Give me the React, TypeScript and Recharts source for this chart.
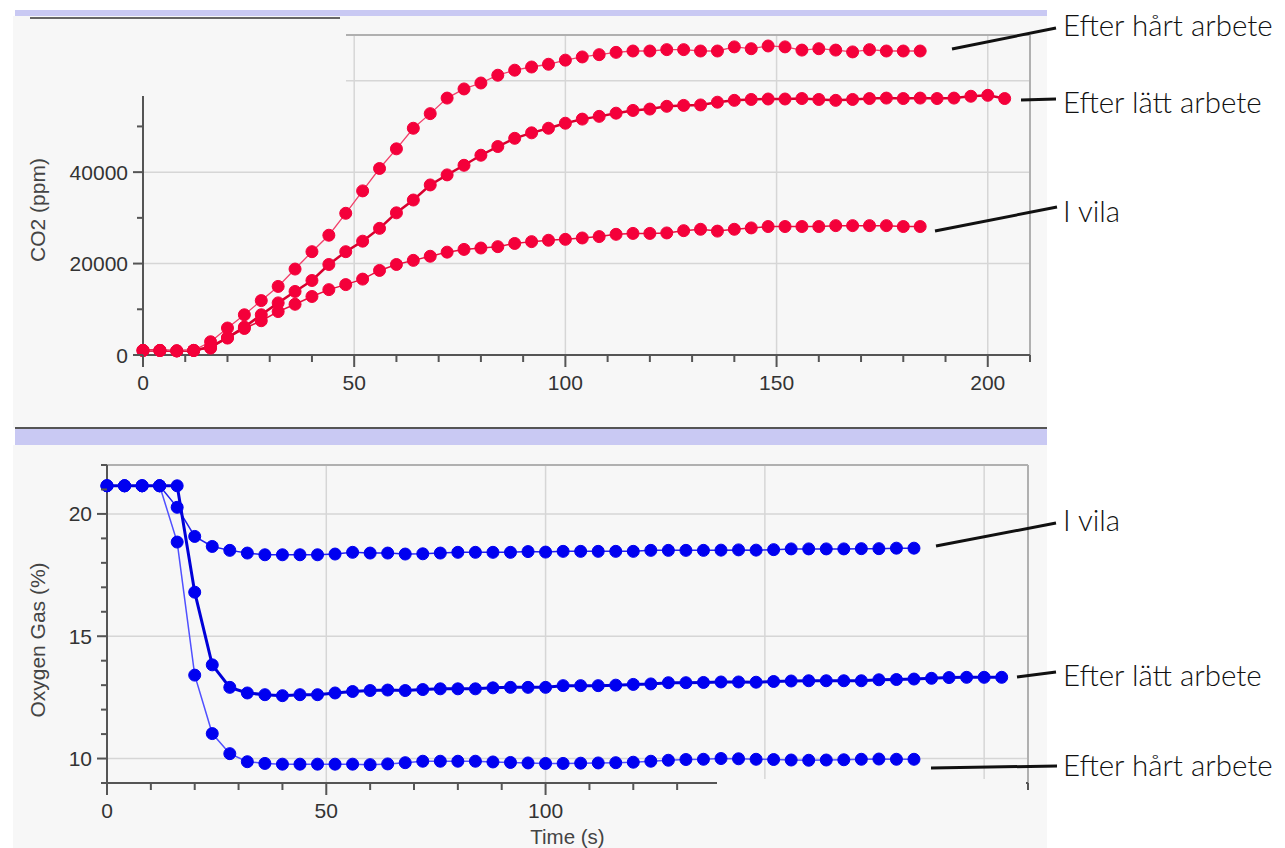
import React from 'react';
import { LineChart, Line, XAxis, YAxis, ReferenceLine } from 'recharts';

// ---------- data ----------
const timeShort = [0, 4, 8, 12, 16, 20, 24, 28, 32, 36, 40, 44, 48, 52, 56, 60, 64, 68, 72, 76, 80, 84, 88, 92, 96, 100, 104, 108, 112, 116, 120, 124, 128, 132, 136, 140, 144, 148, 152, 156, 160, 164, 168, 172, 176, 180, 184];
const timeLong = [0, 4, 8, 12, 16, 20, 24, 28, 32, 36, 40, 44, 48, 52, 56, 60, 64, 68, 72, 76, 80, 84, 88, 92, 96, 100, 104, 108, 112, 116, 120, 124, 128, 132, 136, 140, 144, 148, 152, 156, 160, 164, 168, 172, 176, 180, 184, 188, 192, 196, 200, 204];

// CO2 (ppm)
const co2Hard = [1000, 1000, 900, 1000, 2900, 5900, 8800, 11900, 15000, 18800, 22600, 26200, 31000, 35900, 40800, 45100, 49600, 52800, 56200, 58200, 59500, 61200, 62300, 63000, 63600, 64500, 65200, 65700, 66200, 66500, 66500, 66800, 66800, 66500, 66500, 67400, 67000, 67600, 67400, 66700, 67000, 66700, 66300, 66800, 66500, 66500, 66500];
const co2Light = [1000, 1000, 900, 1000, 1800, 3800, 6100, 8800, 11400, 13900, 16300, 19800, 22600, 24900, 27700, 31100, 33900, 37200, 39400, 41500, 43700, 45600, 47400, 48600, 49600, 50700, 51600, 52200, 52900, 53500, 53800, 54400, 54600, 54700, 55300, 55700, 55900, 56000, 56000, 56100, 55900, 55700, 55900, 56100, 56200, 56100, 56200, 56100, 56200, 56600, 56800, 56100];
const co2Rest = [1000, 1000, 900, 1000, 1500, 3700, 5800, 7500, 9500, 11100, 12800, 14300, 15400, 16600, 18500, 19800, 20700, 21600, 22500, 23100, 23400, 23700, 24400, 24800, 25100, 25300, 25600, 25900, 26400, 26600, 26600, 26700, 27200, 27500, 27100, 27500, 27800, 28100, 28100, 28100, 28100, 28300, 28300, 28300, 28300, 28100, 28100];

// Oxygen Gas (%)
const o2Rest = [21.15, 21.15, 21.15, 21.15, 20.27, 19.08, 18.67, 18.51, 18.4, 18.33, 18.33, 18.33, 18.33, 18.36, 18.43, 18.4, 18.4, 18.36, 18.37, 18.4, 18.43, 18.43, 18.43, 18.43, 18.46, 18.44, 18.47, 18.47, 18.47, 18.47, 18.47, 18.51, 18.51, 18.51, 18.51, 18.52, 18.53, 18.52, 18.54, 18.57, 18.57, 18.57, 18.57, 18.58, 18.58, 18.6, 18.6];
const o2Light = [21.15, 21.15, 21.15, 21.15, 21.15, 16.8, 13.83, 12.91, 12.68, 12.61, 12.57, 12.61, 12.61, 12.68, 12.74, 12.78, 12.8, 12.78, 12.82, 12.85, 12.85, 12.85, 12.89, 12.91, 12.91, 12.91, 12.98, 12.98, 12.98, 13.0, 13.03, 13.05, 13.1, 13.1, 13.11, 13.13, 13.13, 13.12, 13.15, 13.17, 13.18, 13.18, 13.18, 13.18, 13.22, 13.23, 13.25, 13.28, 13.31, 13.32, 13.32, 13.32];
const o2Hard = [21.15, 21.15, 21.15, 21.15, 18.85, 13.41, 11.02, 10.2, 9.87, 9.8, 9.77, 9.77, 9.77, 9.77, 9.77, 9.75, 9.78, 9.83, 9.89, 9.89, 9.89, 9.89, 9.86, 9.84, 9.82, 9.8, 9.8, 9.81, 9.82, 9.83, 9.85, 9.89, 9.93, 9.96, 9.97, 10.0, 9.99, 9.97, 9.96, 9.94, 9.93, 9.94, 9.95, 9.97, 9.98, 9.97, 9.97];

// axes
const xTicks = [0, 10, 20, 30, 40, 50, 60, 70, 80, 90, 100, 110, 120, 130, 140, 150, 160, 170, 180, 190, 200, 210];
const xMajor = [0, 50, 100, 150, 200];
const xLabelsTop = [0, 50, 100, 150, 200];
const xLabelsBottom = [0, 50, 100];
const xGrid = [50, 100, 150, 200];

const co2Ticks = [0, 10000, 20000, 30000, 40000, 50000, 60000, 70000];
const co2Major = [0, 20000, 40000, 60000];
const co2Labels = [0, 20000, 40000];
const co2Grid = [20000, 40000, 60000];

const o2Ticks = [9, 10, 11, 12, 13, 14, 15, 16, 17, 18, 19, 20, 21, 22];
const o2Major = [10, 15, 20];
const o2Labels = [10, 15, 20];
const o2Grid = [10, 15, 20];

const seriesNames = { hard: 'Efter hårt arbete', light: 'Efter lätt arbete', rest: 'I vila' };

const rows = (ts: number[], vs: number[]) => ts.map((t, i) => ({ t, v: vs[i] }));

// ---------- styles ----------
const ARIAL = "'Liberation Sans', Arial, sans-serif";
const LATO = "Lato, 'Open Sans', sans-serif";
const AXIS = '#555';
const RED = '#f4003a';
const BLUE = '#0000f0';
const GRID = '#d6d6d6';
const FRAME = '#b0b0b0';
const PANEL = '#f7f7f7';
const LAV = '#c9c9f3';

const XTick = (props: any) => {
  const { x, y, payload, labels, majors } = props;
  const v = payload.value;
  const major = majors.includes(v);
  return (
    <g>
      <line x1={x} x2={x} y1={y} y2={y + (major ? 12 : 7)} stroke={AXIS} strokeWidth={2} />
      {labels.includes(v) && (
        <text x={x} y={y + 35} textAnchor="middle" fontSize={21} fill="#333" fontFamily={ARIAL}>
          {v}
        </text>
      )}
    </g>
  );
};

const YTick = (props: any) => {
  const { x, y, payload, labels, majors } = props;
  const v = payload.value;
  const major = majors.includes(v);
  return (
    <g>
      <line x1={x - (major ? 10 : 6)} x2={x} y1={y} y2={y} stroke={AXIS} strokeWidth={2} />
      {labels.includes(v) && (
        <text x={x - 15} y={y + 7.5} textAnchor="end" fontSize={21} fill="#333" fontFamily={ARIAL}>
          {v}
        </text>
      )}
    </g>
  );
};

const YTitle = ({ viewBox, text, dx, dy }: any) => {
  const cx = viewBox.x + dx;
  const cy = viewBox.y + viewBox.height / 2 + dy;
  return (
    <text
      x={cx}
      y={cy}
      transform={`rotate(-90 ${cx} ${cy})`}
      textAnchor="middle"
      dominantBaseline="central"
      fontSize={21}
      fill="#444"
      fontFamily={ARIAL}
    >
      {text}
    </text>
  );
};

const XTitle = ({ viewBox, text }: any) => (
  <text
    x={viewBox.x + viewBox.width / 2}
    y={viewBox.y + 61}
    textAnchor="middle"
    fontSize={20.5}
    fill="#444"
    fontFamily={ARIAL}
  >
    {text}
  </text>
);

const dotStyle = (c: string) => ({ r: 6, fill: c, stroke: c, strokeWidth: 1 });

const box = (left: number, top: number, width: number, height: number, bg: string): React.CSSProperties => ({
  position: 'absolute',
  left,
  top,
  width,
  height,
  background: bg,
});

export default function App() {
  return (
    <div style={{ position: 'absolute', left: 0, top: 0, width: 1285, height: 848, background: '#fff', overflow: 'hidden' }}>
      {/* panels */}
      <div style={box(15, 10, 1032, 6, LAV)} />
      <div style={box(13, 16, 1034, 412, PANEL)} />
      <div style={box(15, 427, 1032, 2, '#555')} />
      <div style={box(15, 429, 1032, 16, LAV)} />
      <div style={box(13, 445, 1034, 403, PANEL)} />

      {/* CO2 chart */}
      <div style={{ position: 'absolute', left: 13, top: 16 }}>
        <LineChart width={1034} height={412} margin={{ top: 19, right: 17, bottom: 13, left: 0 }}>
          <XAxis
            type="number"
            dataKey="t"
            domain={[0, 210]}
            ticks={xTicks}
            interval={0}
            height={60}
            tickSize={0}
            tickMargin={0}
            tickLine={false}
            axisLine={{ stroke: AXIS, strokeWidth: 2 }}
            tick={(p: any) => <XTick {...p} labels={xLabelsTop} majors={xMajor} />}
          />
          <YAxis
            type="number"
            domain={[0, 70000]}
            ticks={co2Ticks}
            interval={0}
            width={130}
            tickSize={0}
            tickMargin={0}
            tickLine={false}
            axisLine={{ stroke: AXIS, strokeWidth: 2 }}
            tick={(p: any) => <YTick {...p} labels={co2Labels} majors={co2Major} />}
            label={{ content: (p: any) => <YTitle viewBox={p.viewBox} text="CO2 (ppm)" dx={24} dy={15} /> }}
          />
          {xGrid.map((g) => (
            <ReferenceLine key={'x' + g} x={g} stroke={GRID} strokeWidth={1.5} />
          ))}
          {co2Grid.map((g) => (
            <ReferenceLine key={'y' + g} y={g} stroke={GRID} strokeWidth={1.5} />
          ))}
          <ReferenceLine y={70000} stroke={FRAME} strokeWidth={2} />
          <ReferenceLine x={210} stroke={FRAME} strokeWidth={2} />
          <Line data={rows(timeShort, co2Rest)} dataKey="v" name={seriesNames.rest} type="linear" stroke="#e8103f" strokeWidth={1.5} dot={dotStyle(RED)} activeDot={false} isAnimationActive={false} />
          <Line data={rows(timeLong, co2Light)} dataKey="v" name={seriesNames.light} type="linear" stroke="#d8002e" strokeWidth={2.5} dot={dotStyle(RED)} activeDot={false} isAnimationActive={false} />
          <Line data={rows(timeShort, co2Hard)} dataKey="v" name={seriesNames.hard} type="linear" stroke="#f2406a" strokeWidth={1.3} dot={dotStyle(RED)} activeDot={false} isAnimationActive={false} />
        </LineChart>
      </div>

      {/* O2 chart */}
      <div style={{ position: 'absolute', left: 13, top: 446 }}>
        <LineChart width={1034} height={402} margin={{ top: 19, right: 19, bottom: 5, left: 0 }}>
          <XAxis
            type="number"
            dataKey="t"
            domain={[0, 210]}
            ticks={xTicks}
            interval={0}
            height={60}
            tickSize={0}
            tickMargin={0}
            tickLine={false}
            axisLine={{ stroke: AXIS, strokeWidth: 2 }}
            tick={(p: any) => <XTick {...p} labels={xLabelsBottom} majors={xMajor} />}
            label={{ content: (p: any) => <XTitle viewBox={p.viewBox} text="Time (s)" /> }}
          />
          <YAxis
            type="number"
            domain={[9, 22]}
            ticks={o2Ticks}
            interval={0}
            width={94}
            tickSize={0}
            tickMargin={0}
            tickLine={false}
            axisLine={{ stroke: AXIS, strokeWidth: 2 }}
            tick={(p: any) => <YTick {...p} labels={o2Labels} majors={o2Major} />}
            label={{ content: (p: any) => <YTitle viewBox={p.viewBox} text="Oxygen Gas (%)" dx={24} dy={16} /> }}
          />
          {xGrid.map((g) => (
            <ReferenceLine key={'x' + g} x={g} stroke={GRID} strokeWidth={1.5} />
          ))}
          {o2Grid.map((g) => (
            <ReferenceLine key={'y' + g} y={g} stroke={GRID} strokeWidth={1.5} />
          ))}
          <ReferenceLine y={22} stroke={FRAME} strokeWidth={2} />
          <ReferenceLine x={210} stroke={FRAME} strokeWidth={2} />
          <Line data={rows(timeShort, o2Rest)} dataKey="v" name={seriesNames.rest} type="linear" stroke="#2020f0" strokeWidth={1.5} dot={dotStyle(BLUE)} activeDot={false} isAnimationActive={false} />
          <Line data={rows(timeShort, o2Hard)} dataKey="v" name={seriesNames.hard} type="linear" stroke="#5050ff" strokeWidth={1.5} dot={dotStyle(BLUE)} activeDot={false} isAnimationActive={false} />
          <Line data={rows(timeLong, o2Light)} dataKey="v" name={seriesNames.light} type="linear" stroke="#0000d8" strokeWidth={3} dot={dotStyle(BLUE)} activeDot={false} isAnimationActive={false} />
        </LineChart>
      </div>

      {/* cut-out regions of the original composite screenshot */}
      <div style={box(15, 19, 331, 77, PANEL)} />
      <div style={box(30, 17, 310, 2, '#666')} />
      <div style={box(717, 779, 309, 69, PANEL)} />

      {/* annotations */}
      <svg width={1285} height={848} style={{ position: 'absolute', left: 0, top: 0, pointerEvents: 'none' }}>
        <g stroke="#111" strokeWidth={3}>
          <line x1={952} y1={49} x2={1056} y2={28} />
          <line x1={1021} y1={100} x2={1056} y2={99} />
          <line x1={935} y1={231} x2={1057} y2={207} />
          <line x1={936} y1={546} x2={1056} y2={523} />
          <line x1={1017} y1={677} x2={1056} y2={672} />
          <line x1={931} y1={768} x2={1057} y2={766} />
        </g>
        <g fontFamily={LATO} fontSize={29.5} fill="#111" fontWeight={300}>
          <text x={1063} y={36}>{seriesNames.hard}</text>
          <text x={1063} y={113}>{seriesNames.light}</text>
          <text x={1063} y={222}>{seriesNames.rest}</text>
          <text x={1063} y={531}>{seriesNames.rest}</text>
          <text x={1063} y={686}>{seriesNames.light}</text>
          <text x={1063} y={776}>{seriesNames.hard}</text>
        </g>
      </svg>
    </div>
  );
}
